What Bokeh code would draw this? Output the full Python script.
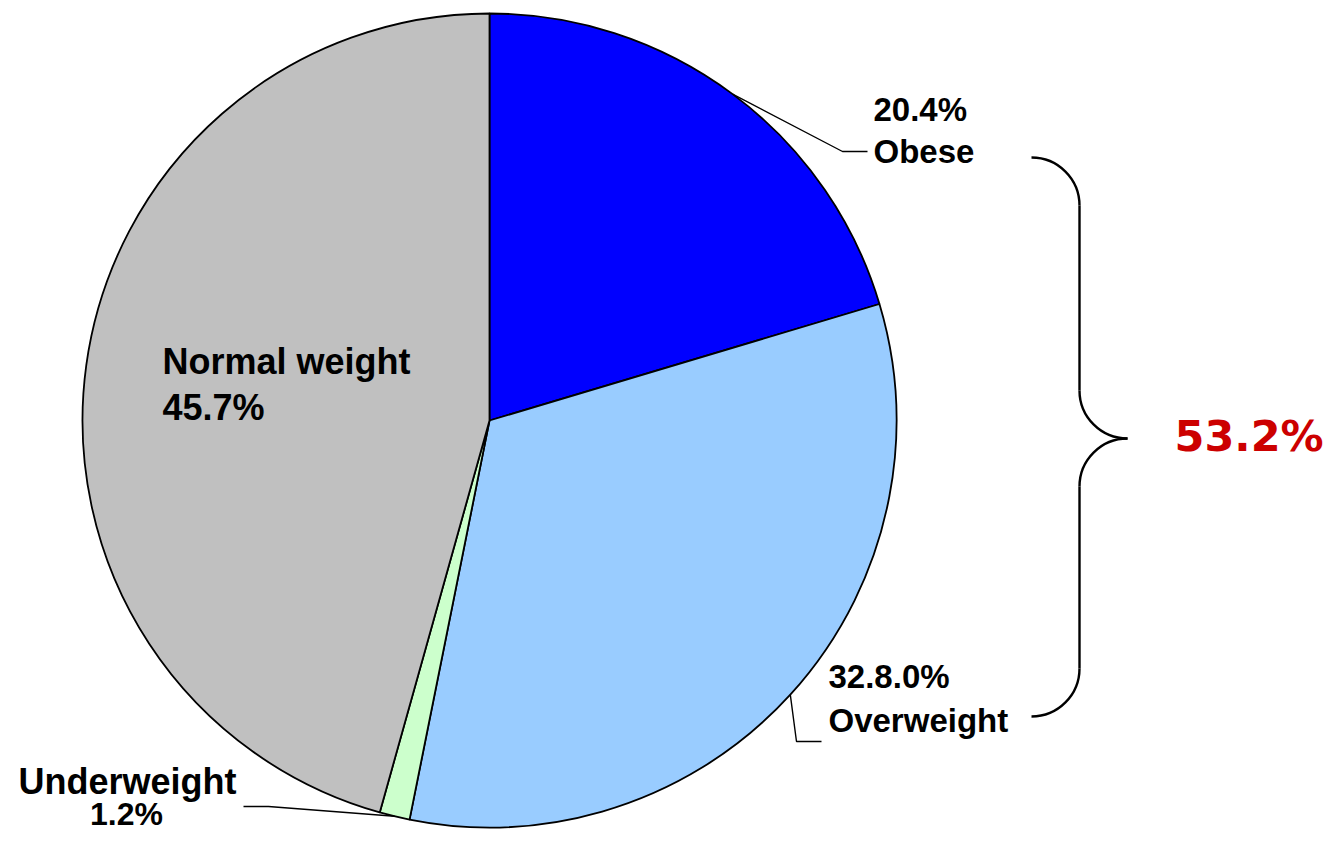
import numpy as np
from bokeh.plotting import figure
from bokeh.models import Range1d, ColumnDataSource
from bokeh.core.properties import value
from bokeh.embed import file_html
from bokeh.resources import INLINE

# ---- data ----
categories = ["Obese", "Overweight", "Underweight", "Normal weight"]
values = [20.4, 32.8, 1.2, 45.7]
colors = ["#0000FF", "#99CCFF", "#CCFFCC", "#C0C0C0"]
pct_labels = ["20.4%", "32.8.0%", "1.2%", "45.7%"]
combined_label = "53.2%"

# ---- geometry (pixels of the picture) ----
CX, CY, R = 489, 420, 407
W, H = 1326, 833
K = 0.36  # baseline correction (fraction of font size)


def X(sx):
    return sx - CX


def Y(sy):
    return CY - sy


p = figure(width=W, height=H,
           x_range=Range1d(X(0), X(W)), y_range=Range1d(Y(H), Y(0)),
           output_backend="svg", toolbar_location=None,
           x_axis_type=None, y_axis_type=None, min_border=0,
           outline_line_color=None, background_fill_color="white",
           border_fill_color="white")

frac = np.array(values) / sum(values)
cum = np.concatenate([[0.0], np.cumsum(frac)])
start = np.pi / 2 - 2 * np.pi * cum[:-1]
end = np.pi / 2 - 2 * np.pi * cum[1:]
mid = (start + end) / 2

src = ColumnDataSource(dict(cat=categories, val=values, color=colors,
                            start=list(start), end=list(end)))
p.wedge(x=0, y=0, radius=R, start_angle="start", end_angle="end",
        direction="clock", fill_color="color", line_color="black",
        line_width=1.8, source=src)

# ---- leader lines (start on slice mid-angle at the rim) ----
ex = R * np.cos(mid)
ey = R * np.sin(mid)
lead_x = [[ex[0], X(842), X(867)],
          [ex[1], X(796), X(821)],
          [ex[2], X(268), X(243)]]
lead_y = [[ey[0], Y(151), Y(151)],
          [ey[1], Y(741), Y(741)],
          [ey[2], Y(806), Y(806)]]
p.multi_line(xs=lead_x, ys=lead_y, line_color="black", line_width=1.4)

font = value("Liberation Sans")


def label(txt, sx, sy, size, align="left", fnt=font, color="black"):
    p.text(x=[X(sx)], y=[Y(sy - K * size)], text=[txt], text_font=fnt,
           text_font_style="bold", text_font_size=f"{size}px", text_color=color,
           text_align=align, text_baseline="alphabetic")


# Obese
label(pct_labels[0], 873, 121, 33)
label(categories[0], 873, 163, 33)
# Overweight
label(pct_labels[1], 828, 688, 33)
label(categories[1], 828, 732, 33)
# Normal weight
label(categories[3], 162, 374, 36)
label(pct_labels[3], 162, 420, 36)
# Underweight
label(categories[2], 127, 794, 36, align="center")
label(pct_labels[2], 126, 825, 32, align="center")

# ---- curly brace ----
bw = 2.4
rb = 48
vx = 1079
tip_x, tip_y = 1127, 438
top_y, bot_y = 157, 716
# top arc
p.arc(x=[X(vx - rb)], y=[Y(top_y + rb)], radius=rb, start_angle=0,
      end_angle=np.pi / 2, line_color="black", line_width=bw)
# upper vertical
p.line(x=[X(vx), X(vx)], y=[Y(top_y + rb), Y(tip_y - rb)], line_color="black", line_width=bw)
# upper tip arc
p.arc(x=[X(tip_x)], y=[Y(tip_y - rb)], radius=rb, start_angle=np.pi,
      end_angle=1.5 * np.pi, line_color="black", line_width=bw)
# lower tip arc
p.arc(x=[X(tip_x)], y=[Y(tip_y + rb)], radius=rb, start_angle=np.pi / 2,
      end_angle=np.pi, line_color="black", line_width=bw)
# lower vertical
p.line(x=[X(vx), X(vx)], y=[Y(tip_y + rb), Y(bot_y - rb)], line_color="black", line_width=bw)
# bottom arc
p.arc(x=[X(vx - rb)], y=[Y(bot_y - rb)], radius=rb, start_angle=-np.pi / 2,
      end_angle=0, line_color="black", line_width=bw)

label(combined_label, 1174, 451, 43, fnt=value("DejaVu Sans"), color="#CC0000")

open("out.html", "w").write(file_html(p, INLINE))
